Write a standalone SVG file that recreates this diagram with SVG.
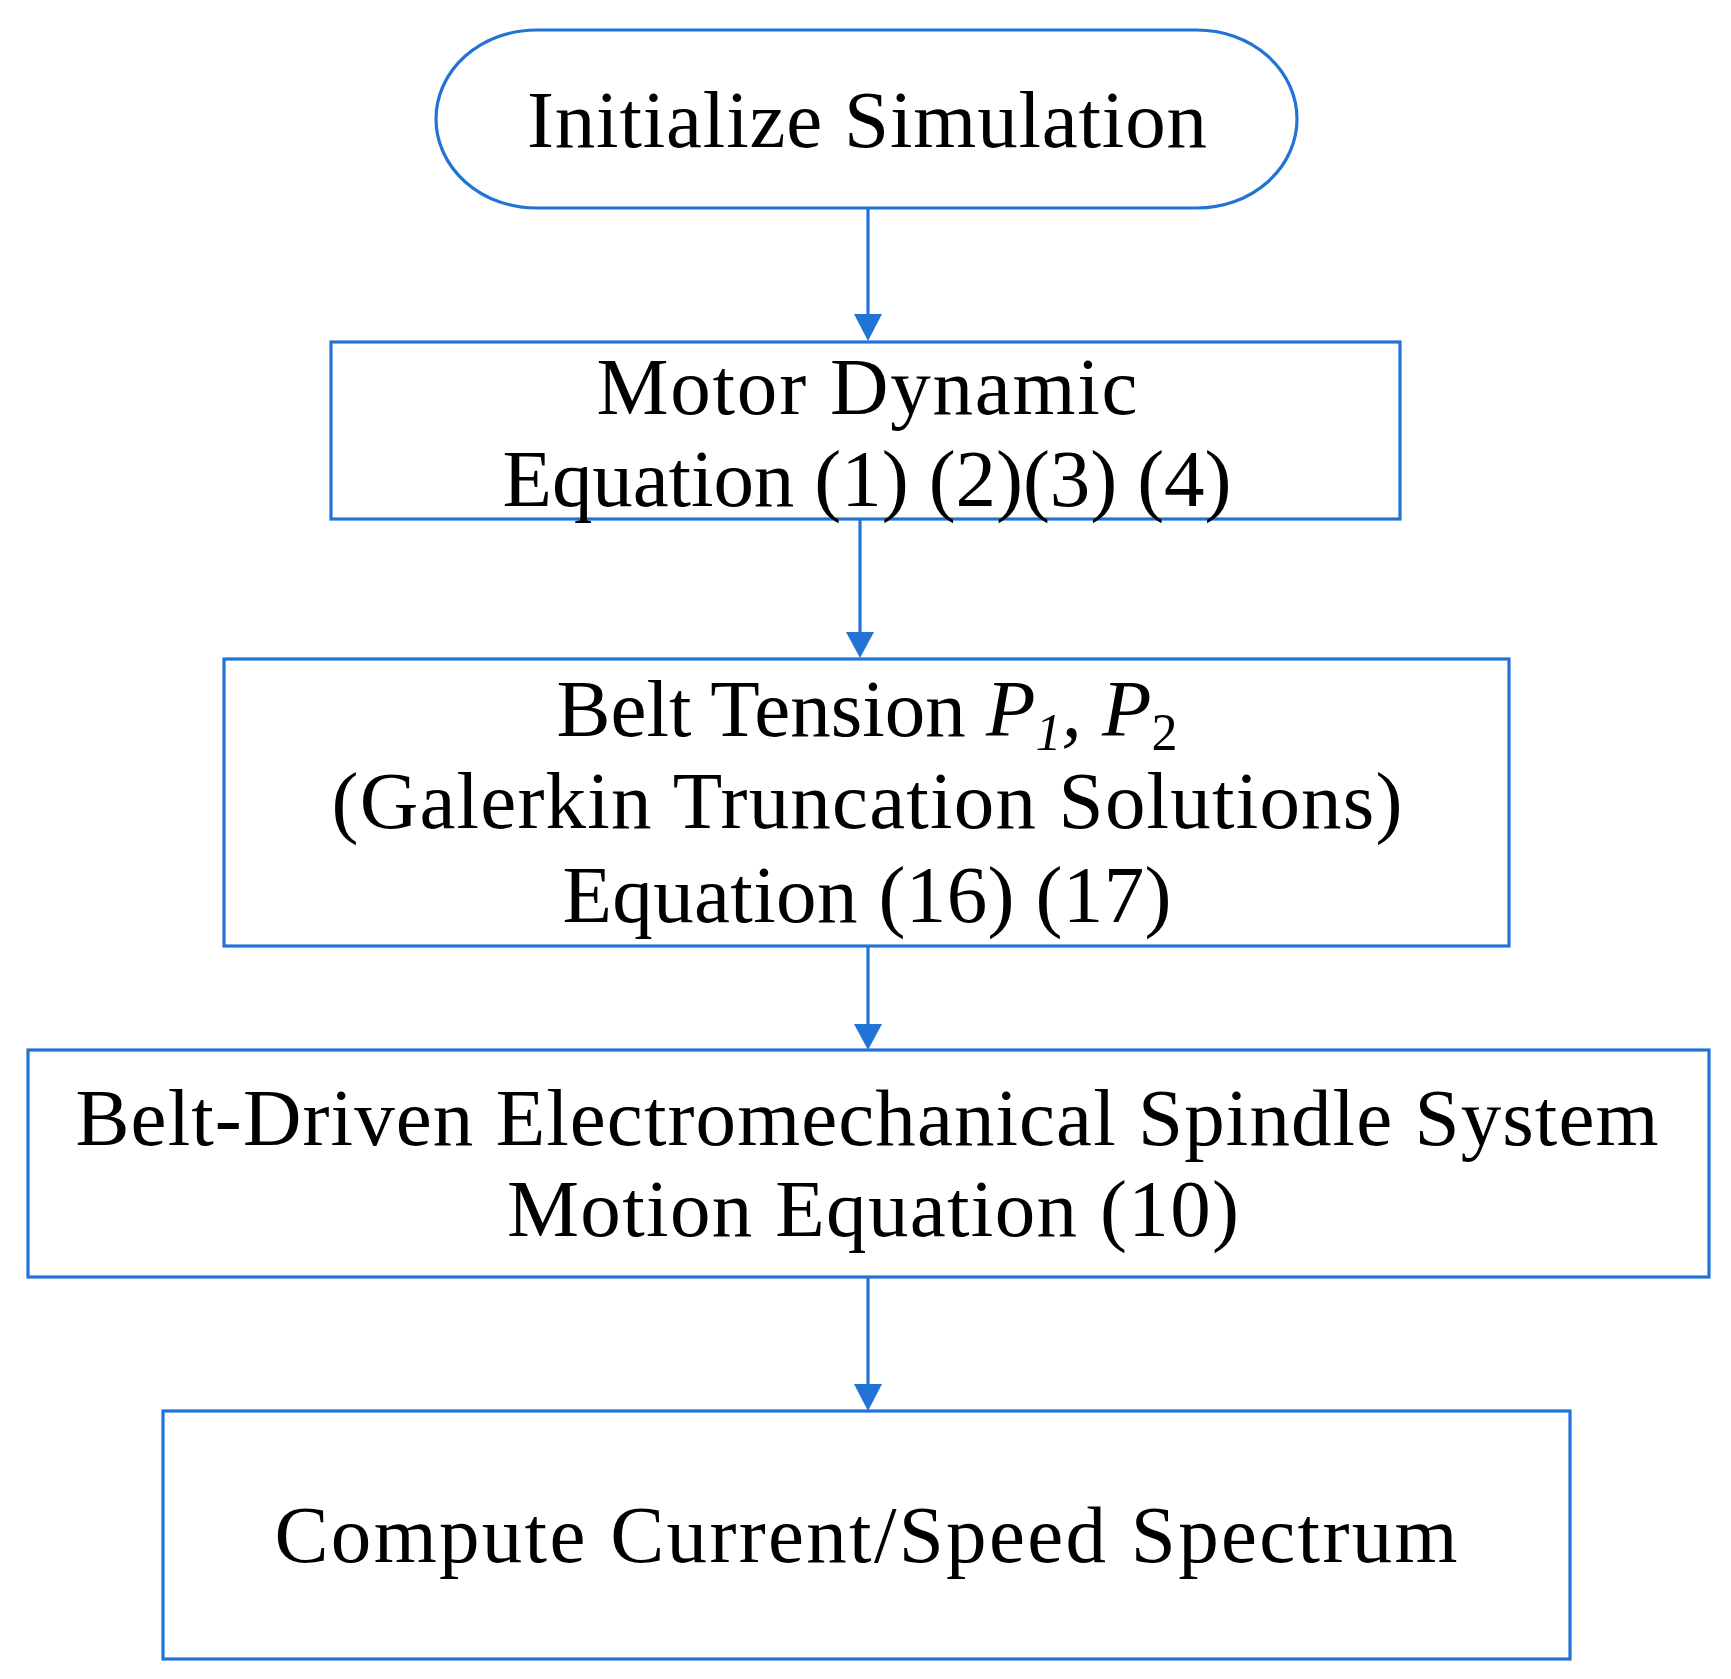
<svg xmlns="http://www.w3.org/2000/svg" width="1731" height="1679" viewBox="0 0 1731 1679">
<style>
.n{fill:#ffffff;stroke:#2273d6;stroke-width:3.2}
.t{font-family:"Liberation Serif","Times New Roman",serif;font-size:81px;fill:#000;text-anchor:middle}
.c{stroke:#2273d6;stroke-width:3.2;fill:none}
.h{fill:#2273d6}
</style>
<rect width="1731" height="1679" fill="#ffffff"/>
<g id="connectors">
<line class="c" x1="868" y1="208" x2="868" y2="318"/>
<path class="h" d="M854,314 L882,314 L868,341 Z"/>
<line class="c" x1="860" y1="519" x2="860" y2="636"/>
<path class="h" d="M846,632 L874,632 L860,658 Z"/>
<line class="c" x1="868" y1="946" x2="868" y2="1028"/>
<path class="h" d="M854,1024 L882,1024 L868,1050 Z"/>
<line class="c" x1="868" y1="1277" x2="868" y2="1388"/>
<path class="h" d="M854,1384 L882,1384 L868,1411 Z"/>
</g>
<g id="start">
<rect class="n" x="436" y="30" width="861" height="178" rx="100" ry="89"/>
<text class="t" x="867" y="147" textLength="680" lengthAdjust="spacing">Initialize Simulation</text>
</g>
<g id="motor">
<rect class="n" x="331" y="342" width="1069" height="177"/>
<text class="t" x="867" y="414" textLength="541" lengthAdjust="spacing">Motor Dynamic</text>
<text class="t" x="867" y="506" textLength="729" lengthAdjust="spacing">Equation (1) (2)(3) (4)</text>
</g>
<g id="belt">
<rect class="n" x="224" y="659" width="1285" height="287"/>
<text class="t" x="867" y="736">Belt Tension <tspan font-style="italic">P</tspan><tspan font-style="italic" font-size="52" dy="14">1</tspan><tspan font-style="italic" dy="-14">, P</tspan><tspan font-size="52" dy="14">2</tspan></text>
<text class="t" x="867" y="828" textLength="1071" lengthAdjust="spacing">(Galerkin Truncation Solutions)</text>
<text class="t" x="867" y="922" textLength="609" lengthAdjust="spacing">Equation (16) (17)</text>
</g>
<g id="spindle">
<rect class="n" x="28" y="1050" width="1681" height="227"/>
<text class="t" x="867" y="1145" textLength="1583" lengthAdjust="spacing">Belt-Driven Electromechanical Spindle System</text>
<text class="t" x="873" y="1236" textLength="732" lengthAdjust="spacing">Motion Equation (10)</text>
</g>
<g id="compute">
<rect class="n" x="163" y="1411" width="1407" height="248"/>
<text class="t" x="866" y="1562" textLength="1183" lengthAdjust="spacing">Compute Current/Speed Spectrum</text>
</g>
</svg>
